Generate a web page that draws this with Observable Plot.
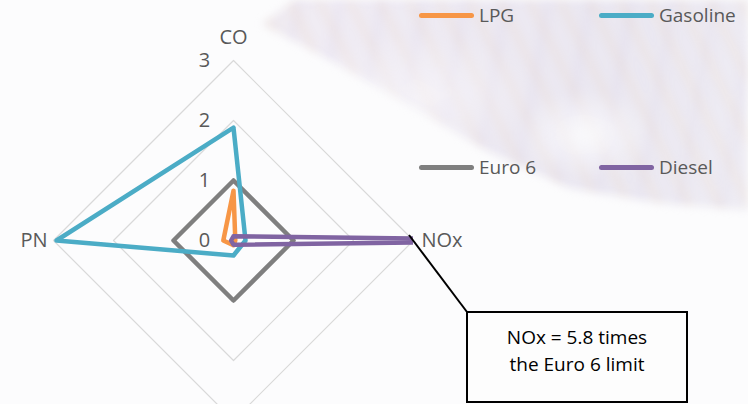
<!DOCTYPE html>
<html>
<head>
<meta charset="utf-8">
<script src="https://cdn.jsdelivr.net/npm/d3@7"></script>
<script src="https://cdn.jsdelivr.net/npm/@observablehq/plot@0.6"></script>
<style>
  html, body { margin: 0; padding: 0; background: #fcfcfd; overflow: hidden; }
  #wrap { position: relative; width: 748px; height: 404px; font-family: "Open Sans", sans-serif; color: #595959; }
  #bg { position: absolute; left: 0; top: 0; width: 748px; height: 404px; filter: blur(4px); }
  #fan {
    position: absolute; left: 0; top: 0; width: 748px; height: 404px;
    clip-path: polygon(262px 24px, 295px 0px, 748px 0px, 748px 210px, 660px 203px, 570px 188px, 490px 152px, 410px 105px, 330px 60px);
    background:
      radial-gradient(ellipse 70px 45px at 585px 135px, rgba(252,252,253,0.85), rgba(252,252,253,0)),
      radial-gradient(ellipse 120px 60px at 420px 95px, rgba(250,248,250,0.6), rgba(250,248,250,0)),
      repeating-linear-gradient(64deg, rgba(235,190,140,0) 0px, rgba(235,190,140,0.14) 4px, rgba(235,190,140,0) 11px, rgba(255,255,255,0) 27px),
      repeating-linear-gradient(100deg, rgba(200,190,225,0) 0px, rgba(200,190,225,0.12) 6px, rgba(200,190,225,0) 17px, rgba(255,255,255,0) 41px),
      linear-gradient(100deg, rgba(226,210,194,0.5) 0%, rgba(226,218,234,0.5) 40%, rgba(216,210,228,0.5) 75%, rgba(224,220,232,0.45) 100%);
  }
  #chart { position: absolute; left: 0; top: 0; }
  #legend { position: absolute; left: 0; top: 0; width: 748px; height: 404px; pointer-events: none; }
  .item { position: absolute; display: flex; align-items: center; font-size: 19px; color: #595959; height: 30px; }
  .swatch { width: 55px; height: 5px; border-radius: 3px; margin-right: 5px; }
  #callout {
    position: absolute; left: 466px; top: 311px; width: 222px; height: 92px;
    border: 2px solid #000; background: #fdfdfd; box-sizing: border-box;
    color: #000; font-size: 19px; line-height: 27px; text-align: center; padding-top: 11px;
  }
</style>
</head>
<body>
<div id="wrap">
  <div id="bg"><div id="fan"></div></div>
  <div id="chart"></div>
  <div id="legend"></div>
  <div id="callout"></div>
</div>
<script>
// Pollutant axes, clockwise from the top
const pollutants = ["CO", "NOx", "HC", "PN"];
// Labels shown at the end of each spoke (the bottom one sits below the frame)
const pollutantLabels = ["CO", "NOx", "", "PN"];

// Emissions relative to the Euro 6 limit (1 = at the limit)
const series = ["Euro 6", "LPG", "Gasoline", "Diesel"];
const euro6 = [1, 1, 1, 1];
const lpg = [0.83, 0.03, 0.08, 0.17];
const gasoline = [1.88, 0.2, 0.25, 2.95];
const diesel = [0.07, 5.8, 0.07, 0.04];
const seriesValues = [euro6, lpg, gasoline, diesel];
const seriesColors = ["#7f7f7f", "#f79646", "#4bacc6", "#8064a2"];

// Legend order (two columns, two rows)
const legendOrder = ["LPG", "Gasoline", "Euro 6", "Diesel"];

// Radial ticks; the outer ring bounds the plot area
const ringTicks = [0, 1, 2, 3];
const maxValue = 3;

const calloutLines = [`NOx = ${diesel[1]} times`, "the Euro 6 limit"];

const angles = pollutants.map((_, i) => Math.PI / 2 - i * Math.PI / 2);
const polar = (v, i) => ({x: v * Math.cos(angles[i]), y: v * Math.sin(angles[i])});

// Closed polygons for each series
const seriesPoints = [];
series.forEach((name, s) => {
  const vals = seriesValues[s];
  [...vals, vals[0]].forEach((v, j) => {
    const i = j % pollutants.length;
    seriesPoints.push({series: name, ...polar(v, i)});
  });
});

// Concentric grid rings
const ringPoints = [];
ringTicks.filter(t => t > 0).forEach(t => {
  for (let j = 0; j <= pollutants.length; j++) {
    ringPoints.push({ring: t, ...polar(t, j % pollutants.length)});
  }
});

const tickLabels = ringTicks.map(t => ({label: String(t), ...polar(t, 0)}));
const axisLabels = pollutants.map((p, i) => ({label: pollutantLabels[i], ...polar(maxValue, i), i}));

const W = 748, H = 404;
const cx = 233, cy = 240, unit = 60;
// The frame ends at the outer ring on the right, so off-scale values are cut there
const marginRight = W - (cx + maxValue * unit);

const plot = Plot.plot({
  width: W,
  height: H,
  marginLeft: 0,
  marginTop: 0,
  marginBottom: 0,
  marginRight,
  style: {background: "transparent", fontFamily: "Open Sans, sans-serif", overflow: "visible"},
  x: {domain: [-cx / unit, maxValue], axis: null},
  y: {domain: [-(H - cy) / unit, cy / unit], axis: null},
  color: {domain: series, range: seriesColors},
  marks: [
    Plot.line(ringPoints, {x: "x", y: "y", z: "ring", stroke: "#d9d9d9", strokeWidth: 1.2}),
    Plot.line(seriesPoints, {x: "x", y: "y", z: "series", stroke: "series", strokeWidth: 4.5, strokeLinejoin: "round", strokeLinecap: "round", clip: true}),
    Plot.text(tickLabels, {x: "x", y: "y", text: "label", dx: -29, fontSize: 20, fill: "#595959"}),
    Plot.text(axisLabels.filter(d => d.i === 0), {x: "x", y: "y", text: "label", dy: -23, fontSize: 20, fill: "#595959"}),
    Plot.text(axisLabels.filter(d => d.i === 1), {x: "x", y: "y", text: "label", dx: 8, textAnchor: "start", fontSize: 20, fill: "#595959"}),
    Plot.text(axisLabels.filter(d => d.i === 2), {x: "x", y: "y", text: "label", dy: 22, fontSize: 20, fill: "#595959"}),
    Plot.text(axisLabels.filter(d => d.i === 3), {x: "x", y: "y", text: "label", dx: -6, textAnchor: "end", fontSize: 20, fill: "#595959"})
  ]
});
document.getElementById("chart").appendChild(plot);

// Legend
const legendPos = [[419, 0], [599, 0], [419, 152], [599, 152]];
const legend = document.getElementById("legend");
legendOrder.forEach((name, k) => {
  const item = document.createElement("div");
  item.className = "item";
  item.style.left = legendPos[k][0] + "px";
  item.style.top = legendPos[k][1] + "px";
  const sw = document.createElement("div");
  sw.className = "swatch";
  sw.style.background = seriesColors[series.indexOf(name)];
  const tx = document.createElement("span");
  tx.textContent = name;
  item.appendChild(sw);
  item.appendChild(tx);
  legend.appendChild(item);
});

// Callout box and its leader line to where the diesel NOx line leaves the frame
const callout = document.getElementById("callout");
callout.innerHTML = calloutLines.map(l => `<div>${l}</div>`).join("");
const xs = plot.scale("x"), ys = plot.scale("y");
const px = xs.apply(maxValue) - 4, py = ys.apply(0) - 5;
const svgNS = "http://www.w3.org/2000/svg";
const leader = document.createElementNS(svgNS, "line");
leader.setAttribute("x1", px);
leader.setAttribute("y1", py);
leader.setAttribute("x2", callout.offsetLeft + 1);
leader.setAttribute("y2", callout.offsetTop + 1);
leader.setAttribute("stroke", "#000");
leader.setAttribute("stroke-width", 2);
plot.appendChild(leader);
</script>
</body>
</html>
